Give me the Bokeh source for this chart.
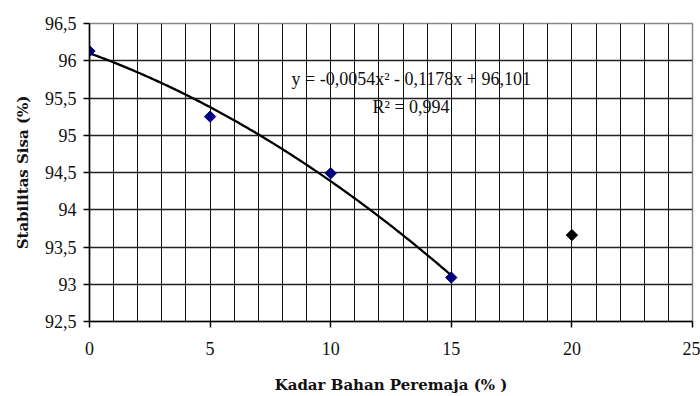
import numpy as np
from bokeh.plotting import figure
from bokeh.models import SingleIntervalTicker, CustomJSTickFormatter, Range1d, Label
from bokeh.embed import file_html
from bokeh.resources import INLINE

# Measured residual stability for each rejuvenator content
kadar = [0, 5, 10, 15, 20]
stabilitas = [96.13, 95.25, 94.49, 93.09, 93.66]
warna = ["#000080", "#000080", "#000080", "#000080", "#000000"]

# Second-order polynomial trend fitted on the first four points
koef_a, koef_b, koef_c = -0.0054, -0.1178, 96.101
trend_x_max = 15
persamaan = "y = -0,0054x\u00b2 - 0,1178x + 96,101"
r_kuadrat = "R\u00b2 = 0,994"
judul_x = "Kadar Bahan Peremaja (% )"
judul_y = "Stabilitas Sisa (%)"

SERIF = "Liberation Serif"
SERIF_BOLD = "DejaVu Serif"
INK = "#111111"

p = figure(width=700, height=396, output_backend="svg", toolbar_location=None,
           x_range=Range1d(0, 25), y_range=Range1d(92.5, 96.5),
           min_border_left=89, min_border_right=8, min_border_top=23, min_border_bottom=73)

p.background_fill_color = "white"
p.border_fill_color = "white"
p.outline_line_color = "#888888"
p.outline_line_width = 1.5

# grid: every 1 unit on x, every 0.5 on y
p.xgrid.ticker = SingleIntervalTicker(interval=1)
p.xgrid.grid_line_color = "#111111"
p.xgrid.grid_line_width = 1
p.ygrid.ticker = SingleIntervalTicker(interval=0.5)
p.ygrid.grid_line_color = "#222222"
p.ygrid.grid_line_width = 1.3

fmt = CustomJSTickFormatter(code="return tick.toString().replace('.', ',');")

p.xaxis.ticker = SingleIntervalTicker(interval=5)
p.yaxis.ticker = SingleIntervalTicker(interval=0.5)
p.xaxis.formatter = fmt
p.yaxis.formatter = fmt
p.xaxis.axis_line_color = "black"
p.yaxis.axis_line_color = "black"
p.xaxis.axis_line_width = 1.5
p.yaxis.axis_line_width = 1.5
p.xaxis.major_tick_line_color = "black"
p.yaxis.major_tick_line_color = "black"
p.xaxis.major_tick_line_width = 1.5
p.yaxis.major_tick_line_width = 1.5
p.xaxis.major_tick_in = 0
p.yaxis.major_tick_in = 0
p.xaxis.major_tick_out = 6
p.yaxis.major_tick_out = 6
p.xaxis.minor_tick_line_color = None
p.yaxis.minor_tick_line_color = None
p.xaxis.major_label_text_font = SERIF
p.yaxis.major_label_text_font = SERIF
p.xaxis.major_label_text_font_size = "18px"
p.yaxis.major_label_text_font_size = "18px"
p.xaxis.major_label_text_color = INK
p.yaxis.major_label_text_color = INK
p.xaxis.major_label_standoff = 14
p.yaxis.major_label_standoff = 7

# axis titles in a bold serif face
p.xaxis.axis_label = judul_x
p.yaxis.axis_label = judul_y
p.xaxis.axis_label_text_font = SERIF_BOLD
p.yaxis.axis_label_text_font = SERIF_BOLD
p.xaxis.axis_label_text_font_style = "bold"
p.yaxis.axis_label_text_font_style = "bold"
p.xaxis.axis_label_text_font_size = "15px"
p.yaxis.axis_label_text_font_size = "15px"
p.xaxis.axis_label_text_color = INK
p.yaxis.axis_label_text_color = INK
p.xaxis.axis_label_standoff = 18
p.yaxis.axis_label_standoff = 10

# trend curve
tx = np.linspace(0, trend_x_max, 200)
ty = koef_a * tx ** 2 + koef_b * tx + koef_c
p.line(tx, ty, line_color="black", line_width=2.3)

# data points (diamonds)
p.scatter(kadar, stabilitas, marker="square", angle=np.pi / 4, size=8,
          fill_color=warna, line_color=warna)

# equation and coefficient of determination (frame-relative screen units)
p.add_layout(Label(x=202, y=243, x_units="screen", y_units="screen", text=persamaan,
                   text_font=SERIF, text_font_size="18px", text_color=INK,
                   text_baseline="middle"))
p.add_layout(Label(x=283, y=215, x_units="screen", y_units="screen", text=r_kuadrat,
                   text_font=SERIF, text_font_size="18px", text_color=INK,
                   text_baseline="middle"))

out = file_html(p, INLINE)
open("out.html", "w").write(out)
